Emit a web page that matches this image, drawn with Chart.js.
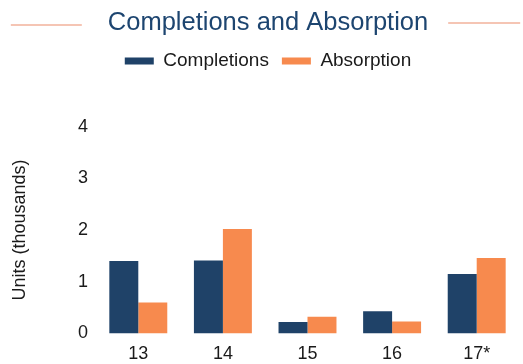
<!DOCTYPE html>
<html>
<head>
<meta charset="utf-8">
<script src="https://cdn.jsdelivr.net/npm/chart.js@4/dist/chart.umd.min.js"></script>
<style>
    html, body { margin: 0; padding: 0; background: #fff; }
    #chart { display: block; }
</style>
</head>
<body>
<canvas id="chart" width="523" height="364"></canvas>
<script>
// Chart data
const categories = ['13', '14', '15', '16', '17*'];
const completions = [1.40, 1.41, 0.22, 0.43, 1.15];
const absorption = [0.60, 2.02, 0.32, 0.23, 1.46];
const yTicks = [0, 1, 2, 3, 4];

const navy = '#1f4268';
const orange = '#f78a4e';
const lineColor = '#f2b29c';

// Extra room under the legend
const legendGap = {
    id: 'legendGap',
    beforeLayout(chart) {
        const lg = chart.legend;
        if (lg && !lg._gapPatched) {
            const fit = lg.fit.bind(lg);
            lg.fit = function() {
                fit();
                this.height += 46;
            };
            lg._gapPatched = true;
        }
    }
};

// Thin lines either side of the title
const titleLines = {
    id: 'titleLines',
    afterDraw(chart) {
        const tb = chart.titleBlock;
        if (!tb) return;
        const ctx = chart.ctx;
        const opts = chart.options.plugins.title;
        ctx.save();
        ctx.font = `${opts.font.size}px ${opts.font.family}`;
        const w = ctx.measureText(opts.text).width;
        const cx = (tb.left + tb.right) / 2;
        ctx.strokeStyle = lineColor;
        ctx.lineWidth = 1.5;
        ctx.beginPath();
        ctx.moveTo(cx - w / 2 - 97, 25);
        ctx.lineTo(cx - w / 2 - 26, 25);
        ctx.moveTo(cx + w / 2 + 20, 23);
        ctx.lineTo(cx + w / 2 + 92, 23);
        ctx.stroke();
        ctx.restore();
    }
};

const ctx = document.getElementById('chart').getContext('2d');
new Chart(ctx, {
    type: 'bar',
    data: {
        labels: categories,
        datasets: [{
            label: 'Completions',
            data: completions,
            backgroundColor: navy,
            borderWidth: 0
        }, {
            label: 'Absorption',
            data: absorption,
            backgroundColor: orange,
            borderWidth: 0
        }]
    },
    options: {
        responsive: false,
        animation: false,
        layout: {
            padding: { left: 17, right: 4, top: 0, bottom: -11 }
        },
        datasets: {
            bar: {
                categoryPercentage: 0.685,
                barPercentage: 1
            }
        },
        plugins: {
            title: {
                display: true,
                text: 'Completions and Absorption',
                color: '#1d4570',
                font: { size: 25.5, family: '"Liberation Sans", Arial, sans-serif', weight: 'normal' },
                padding: { top: 8, bottom: 0 }
            },
            legend: {
                display: true,
                position: 'top',
                labels: {
                    boxWidth: 29,
                    boxHeight: 7,
                    padding: 13,
                    color: '#1a1a1a',
                    font: { size: 19, family: '"Liberation Sans", Arial, sans-serif' }
                }
            },
            tooltip: { enabled: false }
        },
        scales: {
            x: {
                grid: { display: false, drawTicks: false },
                border: { display: false },
                ticks: {
                    color: '#1a1a1a',
                    padding: 10,
                    font: { size: 18, family: '"Liberation Sans", Arial, sans-serif' }
                }
            },
            y: {
                min: 0,
                max: 4,
                grid: { display: false, drawTicks: false },
                border: { display: false },
                afterBuildTicks: function(scale) {
                    scale.ticks = yTicks.map(v => ({ value: v }));
                },
                afterFit: function(scale) {
                    scale.width = 79;
                },
                ticks: {
                    color: '#1a1a1a',
                    padding: 8,
                    font: { size: 18, family: '"Liberation Sans", Arial, sans-serif' }
                },
                title: {
                    display: true,
                    text: 'Units (thousands)',
                    color: '#1a1a1a',
                    padding: { top: -8, bottom: 0 },
                    font: { size: 18, family: '"Liberation Sans", Arial, sans-serif' }
                }
            }
        }
    },
    plugins: [legendGap, titleLines]
});
</script>
</body>
</html>
